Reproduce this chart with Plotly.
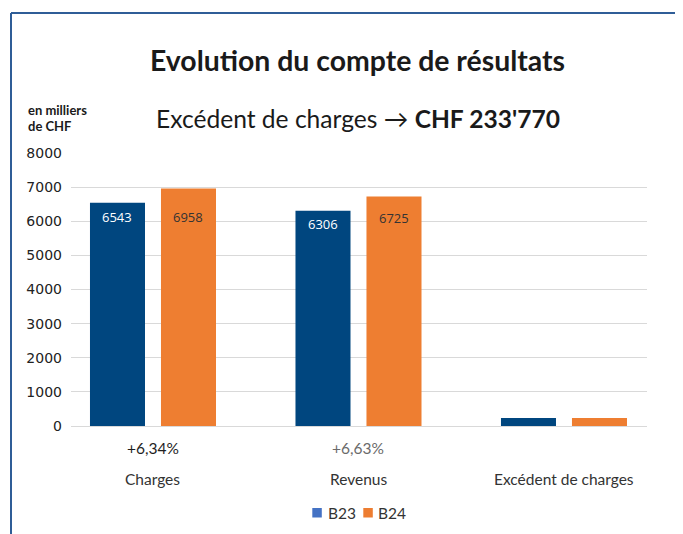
import plotly.graph_objects as go

categories = ["Charges", "Revenus", "Excédent de charges"]
b23 = [6543, 6306, 237]
b24 = [6958, 6725, 234]
b23_labels = ["6543", "6306", ""]
b24_labels = ["6958", "6725", ""]
pct_labels = ["+6,34%", "+6,63%", ""]
series_names = ["B23", "B24"]
y_ticks = [0, 1000, 2000, 3000, 4000, 5000, 6000, 7000, 8000]

BLUE = "#00467F"
ORANGE = "#EE7E31"
LEG_COLORS = ["#4472C4", "#ED7D31"]
FONT = "Lato"

# label pixel offsets below bar tops (style, not data)
b23_label_shift = [-14, -13, 0]
b24_label_shift = [-28, -21, 0]

# plot-area geometry on screen (px) for paper conversions
PX0, PW, PY0, PH = 71, 576, 426, 273
def px(x):
    return (x - PX0) / PW
def py(y):
    return (PY0 - y) / PH

fig = go.Figure()
xs = list(range(len(categories)))
fig.add_trace(go.Bar(x=xs, y=b23, name=series_names[0], marker=dict(color=BLUE, line=dict(width=0)),
                     showlegend=False, hoverinfo="y"))
fig.add_trace(go.Bar(x=xs, y=b24, name=series_names[1], marker=dict(color=ORANGE, line=dict(width=0)),
                     showlegend=False, hoverinfo="y"))

ann = []
ann.append(dict(text="<b>Evolution du compte de résultats</b>", x=0.498, y=py(60), xref="paper", yref="paper",
                showarrow=False, font=dict(family=FONT, size=28.4, color="#1a1a1a"), xanchor="center", yanchor="middle"))
ann.append(dict(text="Excédent de charges \u2192 <b>CHF 233'770</b>", x=0.498, y=py(118), xref="paper", yref="paper",
                showarrow=False, font=dict(family=FONT, size=24.6, color="#1a1a1a"), xanchor="center", yanchor="middle"))
ann.append(dict(text="<b>en milliers</b>", x=px(26), y=py(110), xref="paper", yref="paper",
                showarrow=False, font=dict(family=FONT, size=13, color="#1a1a1a"), xanchor="left", yanchor="middle"))
ann.append(dict(text="<b>de CHF</b>", x=px(26), y=py(126.5), xref="paper", yref="paper",
                showarrow=False, font=dict(family=FONT, size=13, color="#1a1a1a"), xanchor="left", yanchor="middle"))

for i in xs:
    if b23_labels[i]:
        ann.append(dict(text=b23_labels[i], x=i, y=b23[i], xref="x", yref="y", xshift=-35.5,
                        yshift=b23_label_shift[i], showarrow=False, yanchor="middle", xanchor="center",
                        font=dict(family="Open Sans", size=13, color="white")))
    if b24_labels[i]:
        ann.append(dict(text=b24_labels[i], x=i, y=b24[i], xref="x", yref="y", xshift=35.5,
                        yshift=b24_label_shift[i], showarrow=False, yanchor="middle", xanchor="center",
                        font=dict(family="Open Sans", size=13, color="#333333")))

pct_colors = ["#1e1e1e", "#6a6a6a", "#6a6a6a"]
for i, p in enumerate(pct_labels):
    if p:
        ann.append(dict(text=p, x=i, y=py(447.5), xref="x", yref="paper", showarrow=False,
                        font=dict(family=FONT, size=15.5, color=pct_colors[i]), xanchor="center", yanchor="middle"))
for i, c in enumerate(categories):
    ann.append(dict(text=c, x=i, y=py(479), xref="x", yref="paper", showarrow=False,
                    font=dict(family=FONT, size=15.5, color="#333333"), xanchor="center", yanchor="middle"))

shapes = [
    dict(type="line", xref="paper", yref="paper", x0=px(11), x1=1.1, y0=py(13), y1=py(13),
         line=dict(color="#2F5D97", width=2)),
    dict(type="line", xref="paper", yref="paper", x0=px(11), x1=px(11), y0=py(13), y1=-0.45,
         line=dict(color="#2F5D97", width=2)),
]

# legend (swatches use the lighter Office colours, as in the original)
leg_sq_x = [312.3, 363.3]
leg_tx_x = [325.7, 376.0]
for k, name in enumerate(series_names):
    shapes.append(dict(type="rect", xref="paper", yref="paper", x0=px(leg_sq_x[k]), x1=px(leg_sq_x[k] + 9.5),
                       y0=py(508), y1=py(517.5), fillcolor=LEG_COLORS[k], line=dict(width=0)))
    ann.append(dict(text=name, x=px(leg_tx_x[k]), y=py(512.5), xref="paper", yref="paper", showarrow=False,
                    font=dict(family=FONT, size=15.5, color="#333333"), xanchor="left", yanchor="middle"))

fig.update_layout(
    width=675, height=526,
    margin=dict(l=63, r=36, t=145, b=108, autoexpand=False),
    paper_bgcolor="white", plot_bgcolor="white",
    barmode="group", bargap=0.309, bargroupgap=0.225,
    font=dict(family=FONT, color="#333333"),
    annotations=ann, shapes=shapes, showlegend=False,
    xaxis=dict(range=[-0.399, 2.404], showticklabels=False, showgrid=False, zeroline=False,
               showline=False, ticks=""),
    yaxis=dict(range=[0, 8000], tickvals=y_ticks, showgrid=True, gridcolor="#D9D9D9", gridwidth=1,
               zeroline=True, zerolinecolor="#D9D9D9", zerolinewidth=1, showline=False,
               tickfont=dict(family="DejaVu Sans", size=14, color="#222222"),
               ticklabelstandoff=8, fixedrange=True),
)

fig.write_html("out.html")
